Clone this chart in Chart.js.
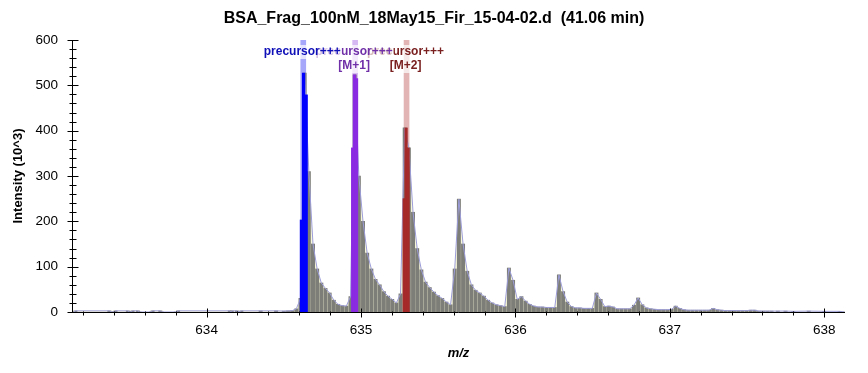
<!DOCTYPE html>
<html>
<head>
<meta charset="utf-8">
<script src="https://cdn.jsdelivr.net/npm/chart.js@4.4.0/dist/chart.umd.min.js"></script>
<style>
  html, body { margin: 0; padding: 0; background: #fff; }
</style>
</head>
<body>
<canvas id="spectrum" width="868" height="373"></canvas>
<script>
// Profile spectrum, intensity in 10^3 counts
const profileMz = [
  633.14, 633.15, 633.37, 633.385, 633.40, 633.41, 633.49, 633.50, 633.51, 633.52,
  633.555, 633.565, 633.64, 633.65, 633.70, 633.71, 633.80, 633.815, 634.15, 634.157,
  634.163, 634.196, 634.21, 634.225, 634.35, 634.45,
  634.500, 634.527, 634.554, 634.581, 634.608, 634.635, 634.662, 634.689, 634.716, 634.743,
  634.770, 634.797, 634.824, 634.851, 634.878, 634.905, 634.932, 634.959, 634.986, 635.013,
  635.040, 635.067, 635.094, 635.121, 635.148, 635.175, 635.202, 635.229, 635.256, 635.283,
  635.310, 635.337, 635.364, 635.391, 635.418, 635.445, 635.472, 635.499, 635.526, 635.553,
  635.580, 635.607, 635.634, 635.661, 635.688, 635.715, 635.742, 635.769, 635.796, 635.823,
  635.850, 635.877, 635.904, 635.931, 635.958, 635.985, 636.012, 636.039, 636.066, 636.093,
  636.120, 636.147, 636.174, 636.201, 636.228, 636.255, 636.282, 636.309, 636.336, 636.363,
  636.390, 636.417, 636.444, 636.471, 636.498, 636.525, 636.552, 636.579, 636.606, 636.633,
  636.660, 636.687, 636.714, 636.741, 636.768, 636.795, 636.822, 636.849, 636.876, 636.903,
  636.930, 636.957, 636.984, 637.011, 637.038, 637.065, 637.092, 637.119, 637.146, 637.173,
  637.200, 637.227, 637.254, 637.281, 637.308, 637.335, 637.362, 637.389, 637.416, 637.443,
  637.470, 637.497, 637.524, 637.551, 637.578, 637.605, 637.632, 637.659,
  637.70, 637.75, 637.80, 637.90, 638.00, 638.10, 638.13
];
const profileInt = [
  0, 2.5, 2.5, 0, 0, 2.5, 2.5, 0, 0, 2.5,
  2.5, 0, 0, 2.5, 2.5, 0, 0, 2.5, 2.5, 0,
  2.5, 2.5, 0, 2.5, 2.5, 2.5,
  2, 2.5, 3, 7, 30, 527, 310, 150, 95, 64,
  52, 42, 26, 17, 14, 13, 34, 523, 300, 200,
  130, 95, 72, 60, 45, 35, 28, 20, 40, 406,
  362, 220, 140, 93, 66, 54, 44, 36, 30, 22,
  16, 95, 249, 150, 90, 60, 48, 42, 35, 26,
  20, 16, 14, 12, 97, 70, 28, 34, 24, 17,
  13, 11, 11, 10, 10, 10, 82, 45, 22, 12,
  9, 9, 8, 8, 8, 42, 28, 12, 13, 11,
  7, 7, 7, 7, 15, 31, 16, 9, 7, 6,
  5, 5, 5, 6, 13, 8, 5, 4, 4, 4,
  4, 4, 4, 8, 5, 4, 3, 3, 3, 3,
  3, 3, 4, 4, 2, 2, 2, 2,
  2, 2, 1.5, 2, 1.5, 1.5, 0
];

// Highlighted isotope peaks (precursor, M+1, M+2)
const precursorMz = [634.614, 634.628, 634.645];
const precursorInt = [203, 527, 479];
const m1Mz = [634.946, 634.958, 634.971];
const m1Int = [362, 523, 515];
const m2Mz = [635.280, 635.292, 635.305];
const m2Int = [250, 406, 362];
const markerMz = [634.626, 634.962, 635.295];

const peakLabels = [
  ['precursor+++'],
  ['precursor+++', '[M+1]'],
  ['precursor+++', '[M+2]']
];
const labelColors = ['#1010b8', '#7030a8', '#7a2020'];
const markerColors = ['#a6a6fa', '#d6b8f2', '#e2b4b4'];

const xTicks = [634, 635, 636, 637, 638];
const yTicks = [0, 100, 200, 300, 400, 500, 600];
const chartTitle = 'BSA_Frag_100nM_18May15_Fir_15-04-02.d  (41.06 min)';

Chart.defaults.font.family = "'Liberation Sans', Arial, sans-serif";

const pts = (xs, ys) => xs.map((m, i) => ({ x: m, y: ys[i] }));

// title centred on the whole canvas
const pageTitle = {
  id: 'pageTitle',
  afterDraw(chart) {
    const { ctx } = chart;
    ctx.save();
    ctx.font = "bold 16px 'Liberation Sans', Arial, sans-serif";
    ctx.fillStyle = '#000';
    ctx.textAlign = 'center';
    ctx.textBaseline = 'middle';
    ctx.fillText(chartTitle, chart.width / 2, 18.5);
    ctx.restore();
  }
};

// axis lines with crossing major and minor ticks
const axisTicks = {
  id: 'axisTicks',
  afterDatasetsDraw(chart) {
    const { ctx, chartArea: a, scales: { x, y } } = chart;
    const ax = Math.round(a.left) + 0.5;
    const ay = Math.round(a.bottom) + 0.5;
    ctx.save();
    ctx.strokeStyle = '#000';
    ctx.lineWidth = 1;
    ctx.beginPath();
    ctx.moveTo(ax, a.top);
    ctx.lineTo(ax, ay);
    ctx.lineTo(a.right, ay);
    for (let v = 0; v <= 600; v += 20) {
      const py = Math.round(y.getPixelForValue(v)) + 0.5;
      const len = v % 100 === 0 ? 5 : 3;
      ctx.moveTo(ax - len, py);
      ctx.lineTo(ax + len + 1, py);
    }
    for (let k = 6332; k <= 6380; k += 2) {
      const px = Math.round(x.getPixelForValue(k / 10)) + 0.5;
      if (k % 10 === 0) {
        ctx.moveTo(px, ay - 4);
        ctx.lineTo(px, ay + 5);
      } else {
        ctx.moveTo(px, ay - 1);
        ctx.lineTo(px, ay + 3);
      }
    }
    ctx.stroke();
    ctx.restore();
  }
};

// peak annotations, drawn back to front
const peakNotes = {
  id: 'peakNotes',
  afterDatasetsDraw(chart) {
    const { ctx, chartArea: a, scales: { x } } = chart;
    ctx.save();
    ctx.font = "bold 12px 'Liberation Sans', Arial, sans-serif";
    ctx.textAlign = 'center';
    ctx.textBaseline = 'middle';
    for (let i = peakLabels.length - 1; i >= 0; i--) {
      const cx = x.getPixelForValue(markerMz[i]) - 1;
      peakLabels[i].forEach((line, j) => {
        const cy = a.top + 12 + j * 14;
        const w = ctx.measureText(line).width;
        ctx.fillStyle = 'rgba(255,255,255,0.7)';
        ctx.fillRect(cx - w / 2 - 1, cy - 7, w + 2, 14);
        ctx.fillStyle = labelColors[i];
        ctx.fillText(line, cx, cy);
      });
    }
    ctx.restore();
  }
};

new Chart(document.getElementById('spectrum'), {
  type: 'bar',
  data: {
    datasets: [
      {
        type: 'bar', data: pts(markerMz, [600, 600, 600]),
        backgroundColor: markerColors, barThickness: 5, grouped: false, order: 6
      },
      {
        type: 'line', data: pts(profileMz, profileInt),
        fill: 'origin', backgroundColor: '#f6f6d8', borderWidth: 0,
        pointRadius: 0, tension: 0, order: 5
      },
      {
        type: 'bar', data: pts(profileMz, profileInt),
        backgroundColor: '#7e7e78', barThickness: 3.3, grouped: false, order: 4
      },
      {
        type: 'line', data: pts(profileMz, profileInt),
        fill: false, borderColor: '#9c9cda', borderWidth: 1,
        pointRadius: 0, tension: 0, order: 3
      },
      {
        type: 'bar', data: pts(precursorMz, precursorInt),
        backgroundColor: '#0000ff', barThickness: 2.6, grouped: false, order: 1
      },
      {
        type: 'bar', data: pts(m1Mz, m1Int),
        backgroundColor: '#8a2be2', barThickness: 2.6, grouped: false, order: 1
      },
      {
        type: 'bar', data: pts(m2Mz, m2Int),
        backgroundColor: '#a52a2a', barThickness: 2.6, grouped: false, order: 1
      }
    ]
  },
  options: {
    responsive: false,
    animation: false,
    layout: { padding: { left: 0, right: 23, top: 40, bottom: 0 } },
    plugins: {
      legend: { display: false },
      tooltip: { enabled: false },
      title: { display: false }
    },
    scales: {
      x: {
        type: 'linear',
        min: 633.128,
        max: 638.135,
        offset: false,
        afterBuildTicks: s => { s.ticks = xTicks.map(v => ({ value: v })); },
        ticks: { color: '#000', font: { size: 13.5 }, padding: 9.9, callback: v => String(v) },
        grid: { display: false, drawTicks: false },
        border: { display: false },
        title: {
          display: true, text: 'm/z', color: '#000',
          font: { size: 13, weight: 'bold', style: 'italic' },
          padding: { top: 0, bottom: 12.2 }
        },
        afterFit: s => { s.height = 61; }
      },
      y: {
        min: 0,
        max: 600,
        afterBuildTicks: s => { s.ticks = yTicks.map(v => ({ value: v })); },
        ticks: { color: '#000', font: { size: 13.5 }, padding: 14 },
        grid: { display: false, drawTicks: false },
        border: { display: false },
        title: {
          display: true, text: 'Intensity (10^3)', color: '#000',
          font: { size: 13, weight: 'bold' },
          padding: { top: 10.2, bottom: 0 }
        },
        afterFit: s => { s.width = 72; }
      }
    }
  },
  plugins: [axisTicks, peakNotes, pageTitle]
});
</script>
</body>
</html>
